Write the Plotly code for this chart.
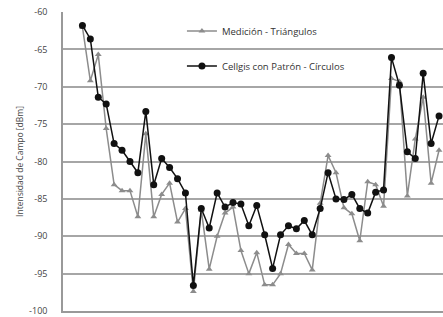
import plotly.graph_objects as go

idx = list(range(46))

medicion = [-62.0, -69.2, -65.7, -75.6, -83.1, -83.9, -83.9, -87.4, -76.3, -87.4,
            -84.4, -82.9, -88.1, -86.3, -97.4, -86.5, -94.4, -90.0, -86.9, -86.1,
            -91.9, -95.0, -92.2, -96.5, -96.5, -95.0, -91.1, -92.3, -92.3, -94.5,
            -85.6, -79.2, -81.5, -86.2, -87.0, -90.6, -82.7, -83.1, -86.0, -68.9,
            -69.3, -84.6, -77.0, -71.4, -82.9, -78.5]

cellgis = [-61.8, -63.6, -71.4, -72.3, -77.6, -78.5, -80.0, -81.5, -73.3, -83.1,
           -79.6, -80.8, -82.3, -84.2, -96.6, -86.3, -88.9, -84.2, -86.1, -85.5,
           -85.7, -88.6, -85.9, -89.8, -94.3, -89.8, -88.6, -89.0, -87.9, -89.8,
           -86.3, -81.5, -85.0, -85.1, -84.4, -86.3, -86.9, -84.1, -83.8, -66.1,
           -69.8, -78.7, -79.6, -68.2, -77.6, -73.9]

y_ticks = [-60, -65, -70, -75, -80, -85, -90, -95, -100]

fig = go.Figure()
fig.add_trace(go.Scatter(
    x=idx, y=medicion, mode="lines+markers", name="Medición - Triángulos",
    line=dict(color="#8c8c8c", width=1.5),
    marker=dict(symbol="triangle-up", size=6, color="#8c8c8c"),
    legendgroup="a"))
fig.add_trace(go.Scatter(
    x=idx, y=cellgis, mode="lines+markers", name="Cellgis con Patrón - Círculos",
    line=dict(color="#111111", width=1.5),
    marker=dict(symbol="circle", size=7, color="#111111"),
    legendgroup="b"))

fig.update_layout(
    width=443, height=317,
    margin=dict(l=63, r=0, t=12, b=6, autoexpand=False),
    paper_bgcolor="white", plot_bgcolor="white",
    font=dict(family="Open Sans", size=9, color="#444444"),
    showlegend=True,
    legend=dict(x=0.313, y=0.985, xanchor="left", yanchor="top",
                bgcolor="rgba(255,255,255,0)", font=dict(size=9.5, color="#333333"),
                tracegroupgap=16, traceorder="grouped", itemwidth=30),
)
fig.update_xaxes(range=[-2.45, 45.5], showticklabels=False, showgrid=False,
                 zeroline=False, showline=True, linecolor="#999999", linewidth=1.5,
                 automargin=False)
fig.update_yaxes(range=[-100, -60], tickvals=y_ticks, ticktext=[str(v) for v in y_ticks],
                 showgrid=True, gridcolor="#a6a6a6", gridwidth=1.5, zeroline=False,
                 showline=True, linecolor="#999999", linewidth=1.5,
                 ticks="", ticklabelstandoff=12, automargin=False,
                 ticklabeloverflow="allow",
                 tickfont=dict(size=9, color="#444444"),
                 title=dict(text="Intensidad de Campo [dBm]", standoff=4,
                            font=dict(size=8.5, color="#444444")))

fig.write_html("out.html", config={"displayModeBar": False},
               post_script="document.body.style.margin='0';document.body.style.padding='0';document.body.style.overflow='hidden';")
